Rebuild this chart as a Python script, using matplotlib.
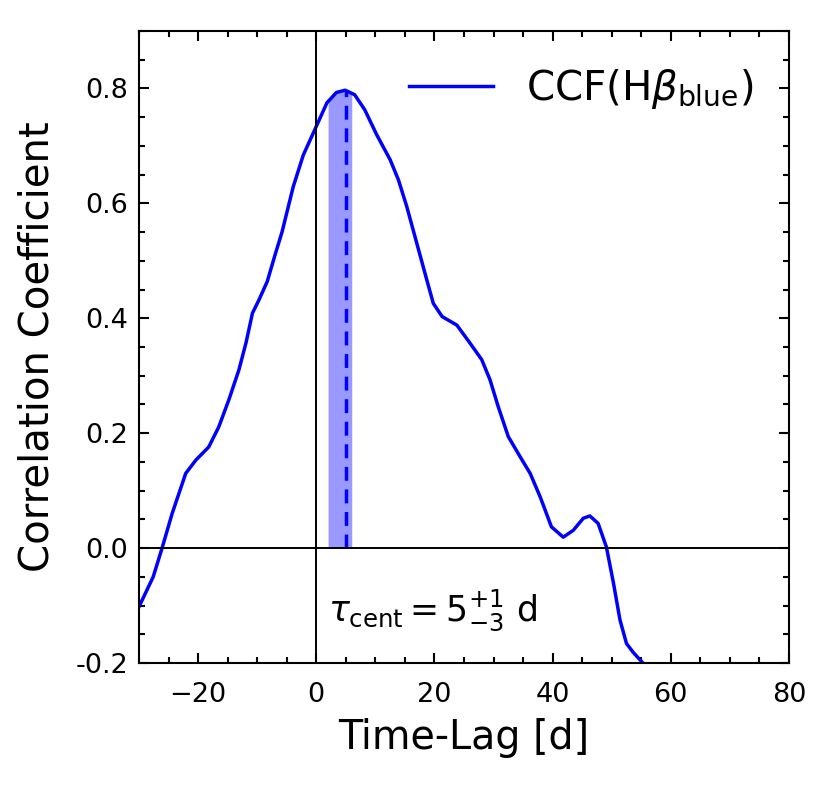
import matplotlib
matplotlib.use('Agg')
import matplotlib.pyplot as plt
import numpy as np
from matplotlib.ticker import MultipleLocator

# CCF curve
lag = [-30, -27.6, -26.1, -24.4, -22.1, -20.4, -18.2, -16.5, -14.8, -13.1, -11.9,
       -10.8, -9.7, -8.3, -6.9, -5.8, -3.9, -2.2, 0, 1.8, 3.4, 4.9, 6.5, 8.2,
       10.2, 12.5, 13.9, 15.3, 17.0, 18.7, 19.8, 21.3, 23.8, 26.0, 28.0, 29.4,
       30.8, 32.5, 34.5, 36.2, 37.9, 39.8, 41.8, 43.5, 45.2, 46.3, 47.7, 49.1,
       50.3, 51.4, 52.5, 53.6, 55.1]
ccf = [-0.102, -0.05, 0.0, 0.06, 0.13, 0.153, 0.176, 0.211, 0.258, 0.31, 0.357,
       0.409, 0.432, 0.464, 0.513, 0.55, 0.629, 0.684, 0.734, 0.775, 0.793,
       0.797, 0.789, 0.763, 0.72, 0.676, 0.641, 0.595, 0.531, 0.467, 0.426,
       0.403, 0.388, 0.357, 0.328, 0.293, 0.246, 0.194, 0.159, 0.13, 0.089,
       0.037, 0.019, 0.031, 0.052, 0.056, 0.043, 0.002, -0.061, -0.125,
       -0.166, -0.181, -0.198]

tau_cent = 5
tau_lo = 2
tau_hi = 6

ytick_vals = [-0.2, 0.0, 0.2, 0.4, 0.6, 0.8]
ytick_labels = ['-0.2', '0.0', '0.2', '0.4', '0.6', '0.8']

lag = np.array(lag)
ccf = np.array(ccf)

fig = plt.figure(figsize=(8.29, 7.85), dpi=100)
ax = fig.add_axes([0.1677, 0.1554, 0.7840, 0.8051])

ax.plot(lag, ccf, '-', color='blue', lw=2.5, label=r'CCF(H$\beta_{\rm blue}$)')

# shaded uncertainty under the curve
xs = np.linspace(tau_lo, tau_hi, 50)
ax.fill_between(xs, 0, np.interp(xs, lag, ccf), color='blue', alpha=0.4, lw=0)
ax.plot([tau_cent, tau_cent], [0, np.interp(tau_cent, lag, ccf)], '--',
        color='blue', lw=2.5, dashes=(4, 2.5))

ax.axhline(0, color='black', lw=1.4)
ax.axvline(0, color='black', lw=1.4)

ax.text(2.0, -0.108, r'$\tau_{\rm cent} = 5^{+1}_{-3}$ d', fontsize=25,
        ha='left', va='center')

ax.set_xlim(-30, 80)
ax.set_ylim(-0.2, 0.9)
ax.set_yticks(ytick_vals)
ax.set_yticklabels(ytick_labels)
ax.xaxis.set_minor_locator(MultipleLocator(5))
ax.yaxis.set_minor_locator(MultipleLocator(0.05))
ax.tick_params(which='both', direction='in', top=True, right=True, width=1.5,
               labelsize=19.5)
ax.tick_params(which='major', length=7.5)
ax.tick_params(which='minor', length=4.3)
ax.tick_params(axis='x', which='major', pad=14)
ax.tick_params(axis='y', which='major', pad=8)
for s in ax.spines.values():
    s.set_linewidth(1.5)

ax.set_xlabel('Time-Lag [d]', fontsize=28.5, labelpad=7)
ax.set_ylabel('Correlation Coefficient', fontsize=29, labelpad=13)

ax.legend(loc='upper right', frameon=False, fontsize=29, handlelength=2.1)

fig.savefig('out.png', dpi=100)
